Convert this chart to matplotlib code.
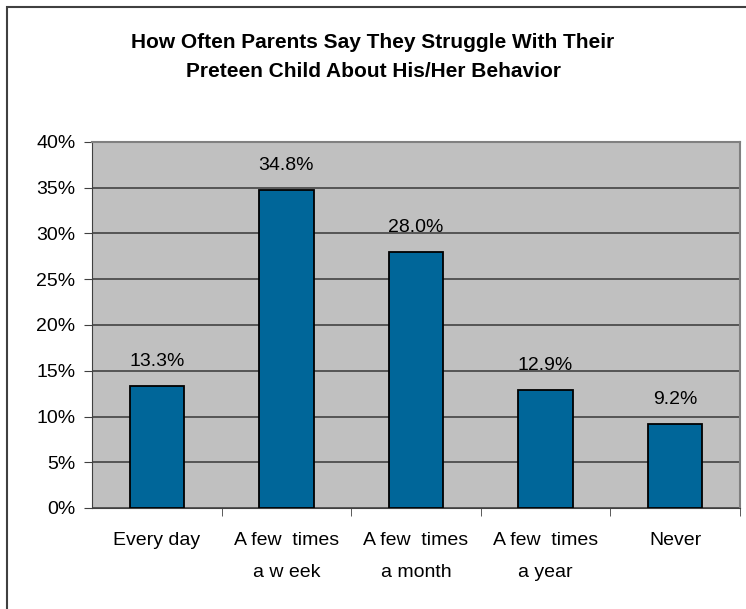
import matplotlib.pyplot as plt
from matplotlib.patches import Rectangle
from matplotlib.ticker import FuncFormatter, MultipleLocator

categorias = ["Every day", "A few  times\na w eek", "A few  times\na month", "A few  times\na year", "Never"]
porcentajes = [13.3, 34.8, 28.0, 12.9, 9.2]

titulo = "How Often Parents Say They Struggle With Their\nPreteen Child About His/Her Behavior"

plt.rcParams["font.family"] = ["Liberation Sans", "DejaVu Sans"]

fig = plt.figure(figsize=(7.46, 6.09), dpi=100)
ax = fig.add_axes([92 / 746, 1 - 508 / 609, 648 / 746, 366 / 609])

# marco exterior del gráfico (se corta a la derecha y abajo)
fig.patches.append(Rectangle((7 / 746, -0.05), 1.1, 1 - 7 / 609 + 0.05,
                             transform=fig.transFigure, fill=False,
                             edgecolor="#404040", linewidth=1.5))

ax.set_facecolor("#C0C0C0")
posiciones = list(range(len(categorias)))
ax.bar(posiciones, porcentajes, width=0.42, color="#006699",
       edgecolor="black", linewidth=1.3, zorder=3)

for x, v in zip(posiciones, porcentajes):
    ax.annotate(f"{v:.1f}%", (x, v), xytext=(0, 11.5), textcoords="offset points",
                ha="center", va="bottom", fontsize=14)

ax.set_xlim(-0.5, len(categorias) - 0.5)
ax.set_ylim(0, 40)
ax.yaxis.set_major_locator(MultipleLocator(5))
ax.yaxis.set_major_formatter(FuncFormatter(lambda v, p: f"{v:.0f}%"))
ax.grid(axis="y", color="#383838", linewidth=1.1, zorder=1)

ax.set_xticks(posiciones)
ax.set_xticklabels(categorias, fontsize=14, linespacing=2.2)
ax.set_xticks([p + 0.5 for p in posiciones], minor=True)
ax.tick_params(axis="x", which="major", length=0, pad=17)
ax.tick_params(axis="x", which="minor", length=6, color="#404040")
ax.tick_params(axis="y", length=6, color="#404040", labelsize=14, pad=6)

for lado in ["top", "right"]:
    ax.spines[lado].set_color("#808080")
    ax.spines[lado].set_linewidth(1.5)
ax.spines["left"].set_color("#404040")
ax.spines["bottom"].set_color("#404040")

fig.text(0.5, 1 - 57 / 609, titulo, ha="center", va="center",
         fontsize=15, fontweight="bold", linespacing=1.65)

fig.savefig("out.png", dpi=100)
